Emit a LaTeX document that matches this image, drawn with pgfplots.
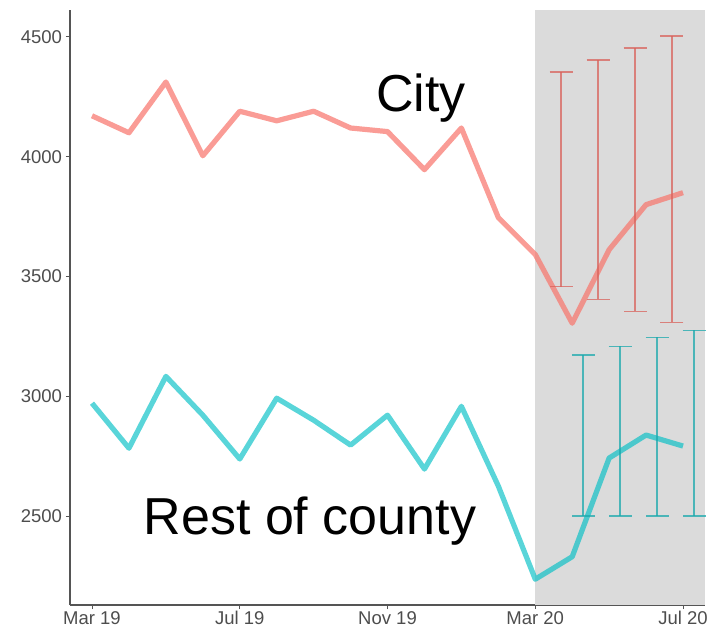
\documentclass[border=0pt]{standalone}
\usepackage{pgfplots}
\pgfplotsset{compat=1.18}
\usepackage{fontspec}
\setmainfont{Liberation Sans}
\definecolor{cityc}{HTML}{F8766D}
\definecolor{cntyc}{HTML}{00BFC4}
\definecolor{cityerr}{HTML}{D9625B}
\definecolor{cntyerr}{HTML}{1AA9AD}
\definecolor{shade}{HTML}{DBDBDB}
\definecolor{axgray}{HTML}{555555}
\definecolor{tickgray}{HTML}{4D4D4D}
\begin{document}
\begin{tikzpicture}
\useasboundingbox (0,0) rectangle (713pt,630pt);
\begin{axis}[
  at={(70pt,25pt)}, anchor=south west,
  scale only axis, width=635pt, height=595pt,
  xmin=-0.596, xmax=16.595, ymin=2128.4, ymax=4612.7,
  axis x line*=bottom, axis y line*=left,
  axis line style={draw=axgray, line width=1.8pt, -},
  xtick={0,4,8,12,16},
  xticklabels={Mar 19,Jul 19,Nov 19,Mar 20,Jul 20},
  ytick={2500,3000,3500,4000,4500},
  tick align=outside, major tick length=4pt,
  tick style={draw=axgray, line width=1pt},
  ticklabel style={font=\fontsize{18.5}{20}\selectfont, text=tickgray},
  /pgf/number format/assume math mode=true,
  /pgf/number format/1000 sep={},
  xticklabel style={yshift=1pt},
  yticklabel style={xshift=-0.5pt},
  clip=false,
]
\addplot[fill=shade, draw=none] coordinates {(12,2128.4) (16.595,2128.4) (16.595,4612.7) (12,4612.7)} -- cycle;

% City line
\addplot[cityc, opacity=0.72, line width=5.2pt, line join=round, no marks] coordinates {
(0,4171) (1,4100) (2,4312) (3,4004) (4,4190) (5,4150) (6,4190) (7,4120) (8,4105) (9,3946) (10,4120) (11,3746) (12,3592) (13,3305) (14,3612) (15,3800) (16,3850)};

% Rest of county line
\addplot[cntyc, opacity=0.65, line width=5.2pt, line join=round, no marks] coordinates {
(0,2971) (1,2783) (2,3083) (3,2921) (4,2738) (5,2992) (6,2900) (7,2796) (8,2921) (9,2696) (10,2958) (11,2625) (12,2236) (13,2330) (14,2742) (15,2838) (16,2792)};

% City error bars
\addplot[draw=none, mark=none,
  error bars/.cd, y dir=both, y explicit,
  error bar style={cityerr, opacity=0.75, line width=1.6pt},
  error mark options={cityerr, opacity=0.75, rotate=90, mark size=11.5pt, line width=1.6pt}]
coordinates {
(12.7,3906) +- (0,448)
(13.7,3904) +- (0,500)
(14.7,3904) +- (0,550)
(15.7,3906) +- (0,598)};

% County error bars
\addplot[draw=none, mark=none,
  error bars/.cd, y dir=both, y explicit,
  error bar style={cntyerr, opacity=0.75, line width=1.6pt},
  error mark options={cntyerr, opacity=0.75, rotate=90, mark size=11.5pt, line width=1.6pt}]
coordinates {
(13.3,2835.5) +- (0,335.5)
(14.3,2854) +- (0,354)
(15.3,2873) +- (0,373)
(16.3,2887.5) +- (0,387.5)};

\node[anchor=base, font=\fontsize{52}{56}\selectfont, inner sep=0pt] at (axis cs:8.906,4187) {City};
\node[anchor=base, font=\fontsize{52}{56}\selectfont, inner sep=0pt] at (axis cs:5.90,2421) {Rest of county};
\end{axis}
\end{tikzpicture}
\end{document}
